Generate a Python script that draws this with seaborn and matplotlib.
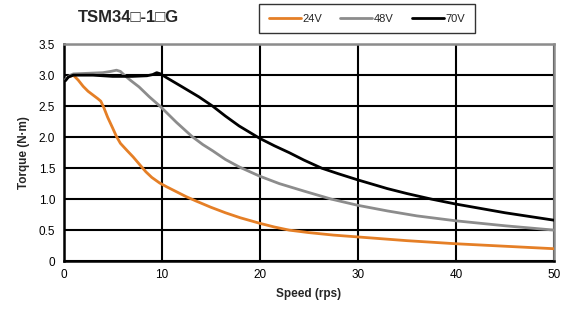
import numpy as np
import pandas as pd
import matplotlib
matplotlib.use("Agg")
import matplotlib.pyplot as plt
import seaborn as sns

# Torque-speed curves (speed in rps, torque in N·m)
speed_24v = [0.5, 1.0, 1.5, 2.0, 2.5, 3.0, 3.5, 3.8, 4.1, 4.5, 5.0, 5.4, 5.8, 6.5, 7.1, 7.8, 8.4, 9.0, 9.8,
             10.5, 11.5, 12.5, 13.5, 15.0, 16.5, 18.0, 20.0, 21.5, 23.0, 25.0, 27.5, 30.0, 35.0, 40.0, 45.0, 50.0]
torque_24v = [2.97, 3.0, 2.92, 2.82, 2.74, 2.68, 2.62, 2.58, 2.48, 2.32, 2.15, 2.01, 1.9, 1.78, 1.68, 1.55, 1.44, 1.35, 1.26,
              1.2, 1.12, 1.04, 0.97, 0.87, 0.78, 0.7, 0.61, 0.55, 0.5, 0.46, 0.42, 0.39, 0.33, 0.28, 0.24, 0.2]

speed_48v = [0.2, 0.6, 1.0, 2.5, 4.0, 4.8, 5.4, 5.8, 6.2, 6.8, 7.7, 8.75, 9.9, 11.5, 13.1, 14.2, 15.2, 16.5, 17.9,
             20.0, 22.0, 24.5, 27.3, 30.0, 33.0, 36.0, 40.0, 45.0, 50.0]
torque_48v = [2.93, 2.99, 3.02, 3.03, 3.04, 3.06, 3.08, 3.06, 3.0, 2.92, 2.81, 2.65, 2.49, 2.24, 2.01, 1.88, 1.78, 1.64, 1.52,
              1.37, 1.25, 1.13, 1.0, 0.9, 0.81, 0.73, 0.65, 0.57, 0.5]

speed_70v = [0.2, 0.5, 1.0, 3.0, 5.0, 7.0, 8.5, 9.1, 9.5, 9.9, 10.5, 12.0, 13.8, 15.2, 16.5, 17.9, 20.0, 21.5, 23.0,
             24.5, 26.3, 28.0, 30.0, 33.0, 35.0, 37.5, 40.0, 45.0, 50.0]
torque_70v = [2.91, 2.97, 3.0, 3.0, 2.98, 2.98, 2.99, 3.01, 3.04, 3.02, 2.96, 2.82, 2.65, 2.5, 2.34, 2.18, 1.98, 1.86, 1.75,
              1.63, 1.5, 1.41, 1.31, 1.17, 1.09, 1.0, 0.92, 0.78, 0.66]

labels = ["24V", "48V", "70V"]
colors = ["#E57F26", "#8C8C8C", "#000000"]
x_ticks = [0, 10, 20, 30, 40, 50]
y_ticks = [0, 0.5, 1.0, 1.5, 2.0, 2.5, 3.0, 3.5]
y_tick_labels = ["0", "0.5", "1.0", "1.5", "2.0", "2.5", "3.0", "3.5"]

frames = []
for lab, xs, ys in zip(labels, [speed_24v, speed_48v, speed_70v],
                       [torque_24v, torque_48v, torque_70v]):
    frames.append(pd.DataFrame({"speed": xs, "torque": ys, "voltage": lab}))
df = pd.concat(frames, ignore_index=True)

sns.set_style("white")
plt.rcParams["font.family"] = ["Liberation Sans", "DejaVu Sans"]

fig = plt.figure(figsize=(5.62, 3.20), dpi=100)
ax = fig.add_axes([0.113, 0.184, 0.873, 0.678])

sns.lineplot(data=df, x="speed", y="torque", hue="voltage",
             palette=dict(zip(labels, colors)), hue_order=labels,
             sort=False, linewidth=2.0, ax=ax, legend=False, zorder=3)

ax.set_xlim(0, 50)
ax.set_ylim(0, 3.5)
ax.set_xticks(x_ticks)
ax.set_yticks(y_ticks)
ax.set_yticklabels(y_tick_labels)
ax.tick_params(length=0, labelsize=8.5, pad=6, colors="#000000")
ax.grid(True, color="#000000", linewidth=1.5, zorder=1)
ax.set_axisbelow(True)

for side in ["left", "bottom"]:
    ax.spines[side].set_color("#000000")
    ax.spines[side].set_linewidth(1.8)
for side in ["top", "right"]:
    ax.spines[side].set_color("#8C8C8C")
    ax.spines[side].set_linewidth(1.8)

ax.set_xlabel("Speed (rps)", fontsize=8.5, fontweight="bold", labelpad=5)
ax.set_ylabel("Torque (N·m)", fontsize=8.5, fontweight="bold", labelpad=6)

fig.text(0.228, 0.945, "TSM34\u25a1-1\u25a1G", fontsize=12, fontweight="bold",
         ha="center", va="center", family=["Liberation Sans", "DejaVu Sans"])

handles = [plt.Line2D([0], [0], color=c, linewidth=2.0) for c in colors]
leg = fig.legend(handles, labels, loc="center", bbox_to_anchor=(0.653, 0.942),
                 ncol=3, frameon=True, fancybox=False, fontsize=8,
                 handlelength=2.9, handletextpad=0.15, columnspacing=1.6,
                 borderpad=0.85, edgecolor="#000000")
leg.get_frame().set_linewidth(1.0)

fig.savefig("out.png", dpi=100)
